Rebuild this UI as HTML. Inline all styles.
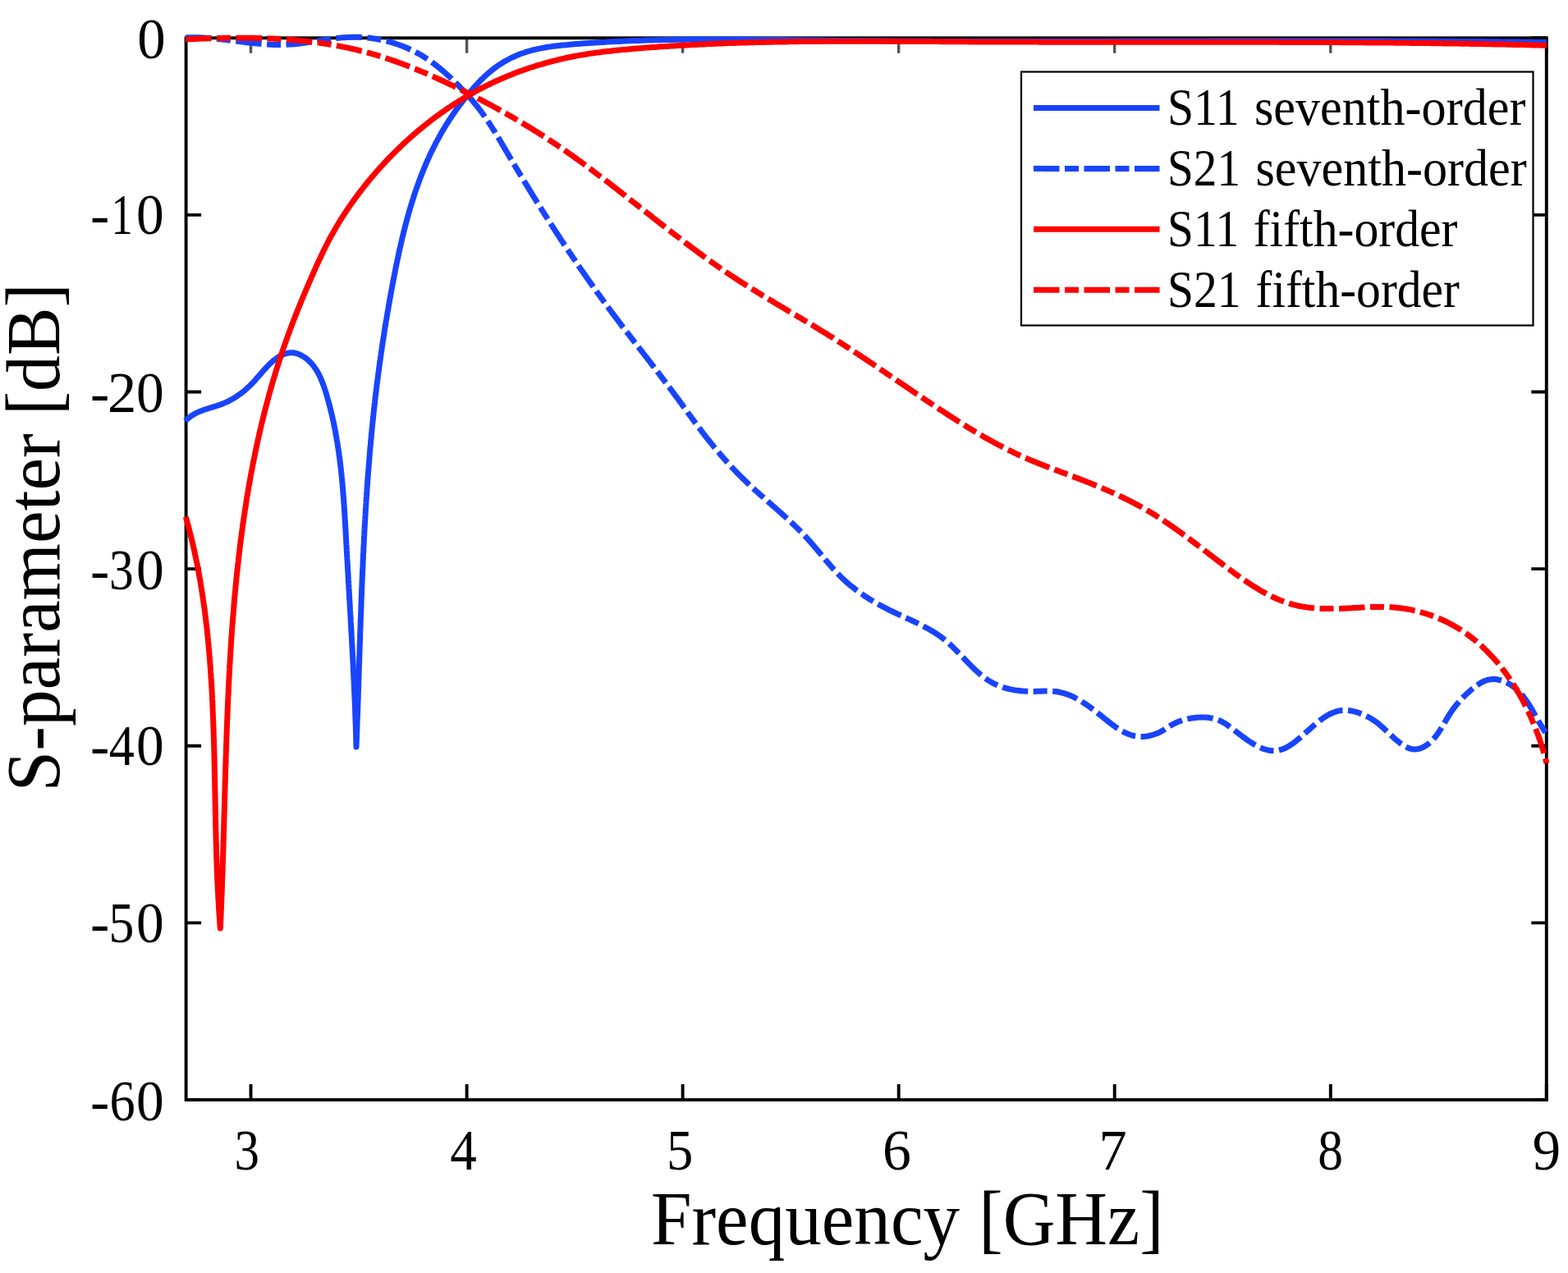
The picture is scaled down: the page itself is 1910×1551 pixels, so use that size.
<!DOCTYPE html>
<html><head><meta charset="utf-8"><title>S-parameter plot</title>
<style>html,body{margin:0;padding:0;background:#fff;overflow:hidden}svg{display:block}text{font-family:"Liberation Serif","Times New Roman",serif;fill:#000}</style>
</head><body>
<svg width="1910" height="1551" viewBox="0 0 1910 1551">
<rect width="1910" height="1551" fill="#fff"/>
<path d="M305.5,1340.0V1321.0M568.6,1340.0V1321.0M831.6,1340.0V1321.0M1094.7,1340.0V1321.0M1357.7,1340.0V1321.0M1620.8,1340.0V1321.0M1883.8,1340.0V1321.0M226.6,46.3H245.1M1883.8,46.3H1865.3M226.6,261.9H245.1M1883.8,261.9H1865.3M226.6,477.5H245.1M1883.8,477.5H1865.3M226.6,693.1H245.1M1883.8,693.1H1865.3M226.6,908.8H245.1M1883.8,908.8H1865.3M226.6,1124.4H245.1M1883.8,1124.4H1865.3M226.6,1340.0H245.1M1883.8,1340.0H1865.3" stroke="#000" stroke-width="3.9" fill="none"/>
<path d="M305.5,46.3V64.8M568.6,46.3V64.8M831.6,46.3V64.8M1094.7,46.3V64.8M1357.7,46.3V64.8M1620.8,46.3V64.8M1883.8,46.3V64.8" stroke="#555" stroke-width="3.4" fill="none"/>
<rect x="226.6" y="46.3" width="1657.2" height="1293.7" fill="none" stroke="#000" stroke-width="3.9"/>
<g clip-path="url(#clip)">
<path d="M226.0,512.8 227.8,510.9 229.7,509.2 231.7,507.7 233.7,506.2 235.9,504.9 238.0,503.7 240.3,502.6 242.6,501.6 244.9,500.7 247.2,499.8 249.6,499.0 252.0,498.2 254.5,497.4 256.9,496.7 259.3,495.9 261.8,495.2 264.2,494.4 266.6,493.6 268.9,492.8 271.3,491.9 273.6,490.9 275.9,489.9 278.1,488.8 280.3,487.7 282.5,486.5 284.6,485.3 286.7,484.0 288.8,482.6 290.8,481.2 292.9,479.8 294.8,478.3 296.8,476.7 298.7,475.1 300.6,473.4 302.5,471.7 304.3,470.0 306.1,468.2 307.9,466.4 309.7,464.5 311.4,462.6 313.1,460.6 314.8,458.6 316.5,456.7 318.2,454.7 319.9,452.7 321.7,450.7 323.4,448.8 325.2,446.9 327.0,445.0 328.8,443.2 330.7,441.5 332.6,439.8 334.6,438.2 336.6,436.7 338.7,435.3 340.9,434.0 343.1,432.8 345.4,431.7 347.7,430.9 350.1,430.3 352.4,429.8 354.8,429.7 357.2,429.8 359.6,430.2 361.9,430.8 364.2,431.6 366.4,432.7 368.6,433.8 370.7,435.2 372.7,436.6 374.6,438.1 376.4,439.7 378.1,441.4 379.7,443.2 381.3,445.0 382.7,446.9 384.1,448.9 385.4,451.0 386.7,453.1 387.9,455.2 389.0,457.5 390.1,459.7 391.1,462.0 392.1,464.4 393.0,466.7 393.9,469.1 394.8,471.6 395.6,474.0 396.4,476.5 397.2,478.9 397.9,481.4 398.6,483.9 399.3,486.4 400.0,488.9 400.7,491.4 401.3,493.8 402.0,496.3 402.6,498.8 403.2,501.3 403.8,503.8 404.4,506.3 405.0,508.7 405.5,511.2 406.1,513.7 406.6,516.2 407.1,518.7 407.6,521.2 408.1,523.7 408.6,526.1 409.0,528.6 409.5,531.1 409.9,533.6 410.3,536.1 410.8,538.6 411.2,541.1 411.5,543.6 411.9,546.1 412.3,548.5 412.7,551.0 413.0,553.5 413.3,556.0 413.7,558.5 414.0,561.0 414.3,563.5 414.6,566.0 414.9,568.5 415.2,571.0 415.5,573.4 415.7,575.9 416.0,578.4 416.2,580.9 416.5,583.4 416.7,585.9 417.0,588.4 417.2,590.9 417.4,593.4 417.6,595.9 417.8,598.4 418.0,600.9 418.2,603.4 418.4,605.9 418.6,608.4 418.8,610.9 418.9,613.4 419.1,615.9 419.3,618.4 419.5,620.9 419.6,623.4 419.8,625.9 419.9,628.4 420.1,630.9 420.2,633.4 420.4,635.9 420.5,638.4 420.7,640.9 420.8,643.4 421.0,645.9 421.1,648.4 421.2,650.9 421.4,653.4 421.5,655.9 421.6,658.4 421.8,660.9 421.9,663.5 422.1,666.0 422.2,668.5 422.3,671.0 422.5,673.5 422.6,676.0 422.8,678.5 422.9,681.0 423.1,683.5 423.2,686.0 423.3,688.6 423.5,691.1 423.6,693.6 423.8,696.1 423.9,698.6 424.1,701.1 424.2,703.7 424.3,706.2 424.5,708.7 424.6,711.2 424.8,713.7 424.9,716.2 425.1,718.7 425.2,721.3 425.4,723.8 425.5,726.3 425.7,728.8 425.8,731.3 425.9,733.9 426.1,736.4 426.2,738.9 426.4,741.4 426.5,743.9 426.7,746.5 426.8,749.0 427.0,751.5 427.1,754.0 427.2,756.5 427.4,759.1 427.5,761.6 427.7,764.1 427.8,766.6 427.9,769.1 428.1,771.7 428.2,774.2 428.4,776.7 428.5,779.2 428.6,781.7 428.8,784.3 428.9,786.8 429.0,789.3 429.2,791.8 429.3,794.3 429.4,796.9 429.6,799.4 429.7,801.9 429.8,804.4 430.0,806.9 430.1,809.5 430.2,812.0 430.3,814.5 430.5,817.0 430.6,819.5 430.7,822.1 430.8,824.6 430.9,827.1 431.1,829.6 431.2,832.1 431.3,834.6 431.4,837.2 431.5,839.7 431.6,842.2 431.7,844.7 431.8,847.2 432.0,849.7 432.1,852.3 432.2,854.8 432.3,857.3 432.4,859.8 432.5,862.3 432.6,864.8 432.7,867.4 432.7,869.9 432.8,872.4 432.9,874.9 433.0,877.4 433.1,879.9 433.2,882.4 433.3,884.9 433.4,887.4 433.4,889.9 433.5,892.5 433.6,895.0 433.7,897.5 433.7,900.0 433.8,902.5 433.9,905.0 433.9,907.5 434.0,910.0 434.1,907.5 434.2,905.0 434.3,902.5 434.4,900.0 434.5,897.5 434.6,895.0 434.7,892.5 434.8,890.0 434.9,887.5 435.0,885.0 435.0,882.5 435.1,880.0 435.2,877.5 435.3,875.0 435.4,872.5 435.5,870.0 435.6,867.5 435.7,865.0 435.8,862.5 435.8,860.0 435.9,857.5 436.0,855.0 436.1,852.5 436.2,850.0 436.3,847.5 436.3,845.0 436.4,842.5 436.5,840.0 436.6,837.5 436.7,835.0 436.8,832.5 436.8,830.0 436.9,827.5 437.0,825.0 437.1,822.5 437.2,820.0 437.2,817.5 437.3,814.9 437.4,812.4 437.5,809.9 437.6,807.4 437.7,804.9 437.7,802.4 437.8,799.9 437.9,797.4 438.0,794.9 438.1,792.4 438.1,789.9 438.2,787.4 438.3,784.9 438.4,782.4 438.5,779.9 438.6,777.4 438.6,774.9 438.7,772.4 438.8,769.9 438.9,767.4 439.0,764.9 439.1,762.4 439.2,759.9 439.2,757.4 439.3,754.9 439.4,752.4 439.5,749.8 439.6,747.3 439.7,744.8 439.8,742.3 439.9,739.8 440.0,737.3 440.0,734.8 440.1,732.3 440.2,729.8 440.3,727.3 440.4,724.8 440.5,722.3 440.6,719.8 440.7,717.3 440.8,714.8 440.9,712.3 441.0,709.8 441.1,707.3 441.2,704.8 441.3,702.3 441.4,699.8 441.5,697.3 441.6,694.8 441.8,692.3 441.9,689.8 442.0,687.3 442.1,684.8 442.2,682.3 442.3,679.8 442.4,677.3 442.5,674.7 442.7,672.2 442.8,669.7 442.9,667.2 443.0,664.7 443.2,662.2 443.3,659.7 443.4,657.2 443.5,654.7 443.7,652.2 443.8,649.7 443.9,647.2 444.1,644.7 444.2,642.2 444.3,639.7 444.5,637.2 444.6,634.7 444.8,632.2 444.9,629.7 445.1,627.2 445.2,624.7 445.3,622.2 445.5,619.7 445.7,617.2 445.8,614.7 446.0,612.2 446.1,609.7 446.3,607.2 446.5,604.7 446.6,602.2 446.8,599.7 447.0,597.2 447.1,594.7 447.3,592.3 447.5,589.8 447.7,587.3 447.8,584.8 448.0,582.3 448.2,579.8 448.4,577.3 448.6,574.8 448.8,572.3 449.0,569.8 449.2,567.3 449.4,564.8 449.6,562.3 449.8,559.8 450.0,557.3 450.2,554.8 450.4,552.3 450.6,549.8 450.8,547.3 451.0,544.9 451.3,542.4 451.5,539.9 451.7,537.4 451.9,534.9 452.2,532.4 452.4,529.9 452.6,527.4 452.9,524.9 453.1,522.4 453.4,519.9 453.6,517.5 453.9,515.0 454.1,512.5 454.4,510.0 454.7,507.5 454.9,505.0 455.2,502.5 455.4,500.0 455.7,497.5 456.0,495.1 456.3,492.6 456.6,490.1 456.8,487.6 457.1,485.1 457.4,482.6 457.7,480.1 458.0,477.7 458.3,475.2 458.6,472.7 458.9,470.2 459.2,467.7 459.5,465.2 459.9,462.8 460.2,460.3 460.5,457.8 460.8,455.3 461.1,452.8 461.5,450.4 461.8,447.9 462.1,445.4 462.5,442.9 462.8,440.4 463.2,438.0 463.5,435.5 463.9,433.0 464.2,430.5 464.6,428.0 465.0,425.6 465.3,423.1 465.7,420.6 466.1,418.1 466.4,415.7 466.8,413.2 467.2,410.7 467.6,408.2 468.0,405.8 468.3,403.3 468.7,400.8 469.1,398.3 469.5,395.9 469.9,393.4 470.3,390.9 470.8,388.4 471.2,386.0 471.6,383.5 472.0,381.0 472.4,378.6 472.9,376.1 473.3,373.6 473.7,371.1 474.1,368.7 474.6,366.2 475.0,363.7 475.5,361.3 475.9,358.8 476.4,356.3 476.8,353.9 477.3,351.4 477.7,348.9 478.2,346.5 478.7,344.0 479.1,341.5 479.6,339.1 480.1,336.6 480.6,334.1 481.1,331.7 481.5,329.2 482.0,326.8 482.5,324.3 483.0,321.8 483.5,319.4 484.0,316.9 484.6,314.5 485.1,312.0 485.6,309.5 486.1,307.1 486.7,304.6 487.2,302.2 487.8,299.7 488.3,297.3 488.9,294.8 489.5,292.4 490.0,290.0 490.6,287.5 491.2,285.1 491.8,282.7 492.4,280.2 493.0,277.8 493.6,275.4 494.3,273.0 494.9,270.5 495.6,268.1 496.2,265.7 496.9,263.3 497.5,260.9 498.2,258.5 498.9,256.1 499.6,253.7 500.3,251.3 501.1,248.9 501.8,246.5 502.5,244.1 503.3,241.8 504.0,239.4 504.8,237.0 505.6,234.7 506.4,232.3 507.2,229.9 508.0,227.6 508.9,225.2 509.7,222.9 510.6,220.6 511.4,218.2 512.3,215.9 513.2,213.6 514.1,211.3 515.0,208.9 516.0,206.6 516.9,204.3 517.9,202.0 518.8,199.8 519.8,197.5 520.8,195.2 521.9,192.9 522.9,190.7 523.9,188.4 525.0,186.1 526.1,183.9 527.2,181.7 528.3,179.4 529.4,177.2 530.5,175.0 531.7,172.8 532.9,170.6 534.1,168.4 535.3,166.2 536.5,164.0 537.7,161.8 539.0,159.6 540.3,157.5 541.6,155.3 542.9,153.2 544.2,151.0 545.6,148.9 546.9,146.8 548.3,144.7 549.7,142.5 551.1,140.5 552.5,138.4 554.0,136.3 555.4,134.2 556.9,132.2 558.4,130.1 559.9,128.1 561.4,126.1 563.0,124.1 564.5,122.1 566.1,120.1 567.6,118.1 569.2,116.2 570.9,114.2 572.5,112.3 574.1,110.4 575.8,108.5 577.4,106.6 579.1,104.7 580.8,102.9 582.5,101.0 584.3,99.2 586.0,97.4 587.8,95.7 589.6,93.9 591.4,92.2 593.3,90.5 595.2,88.9 597.1,87.3 599.0,85.7 601.0,84.1 603.0,82.6 605.0,81.1 607.1,79.7 609.2,78.3 611.3,77.0 613.4,75.6 615.6,74.4 617.8,73.2 620.0,72.0 622.2,70.8 624.4,69.7 626.7,68.7 629.0,67.7 631.3,66.8 633.6,65.8 635.9,65.0 638.3,64.2 640.6,63.4 643.0,62.7 645.4,62.0 647.7,61.3 650.1,60.7 652.6,60.2 655.0,59.6 657.4,59.1 659.8,58.6 662.3,58.2 664.7,57.7 667.2,57.3 669.7,57.0 672.2,56.6 674.6,56.3 677.1,56.0 679.6,55.7 682.1,55.4 684.6,55.1 687.1,54.9 689.6,54.7 692.1,54.4 694.6,54.2 697.1,54.0 699.6,53.8 702.1,53.6 704.6,53.4 707.2,53.2 709.7,53.0 712.2,52.8 714.7,52.7 717.2,52.5 719.7,52.3 722.2,52.2 724.7,52.0 727.2,51.8 729.7,51.7 732.2,51.5 734.7,51.4 737.2,51.3 739.8,51.1 742.3,51.0 744.8,50.8 747.3,50.7 749.8,50.6 752.3,50.5 754.8,50.4 757.3,50.2 759.8,50.1 762.3,50.0 764.8,49.9 767.3,49.8 769.8,49.7 772.3,49.6 774.8,49.5 777.3,49.4 779.8,49.4 782.3,49.3 784.9,49.2 787.4,49.1 789.9,49.0 792.4,49.0 794.9,48.9 797.4,48.8 799.9,48.8 802.4,48.7 804.9,48.7 807.4,48.6 809.9,48.5 812.4,48.5 814.9,48.5 817.4,48.4 819.9,48.4 822.4,48.3 824.9,48.3 827.4,48.3 829.9,48.2 832.4,48.2 834.9,48.2 837.4,48.1 839.9,48.1 842.4,48.1 844.9,48.1 847.4,48.0 849.9,48.0 852.5,48.0 855.0,48.0 857.5,48.0 860.0,48.0 862.5,48.0 865.0,48.0 867.5,48.0 870.0,48.0 872.5,48.0 875.0,48.0 877.5,48.0 880.0,48.0 882.5,48.0 885.0,48.0 887.5,48.0 890.0,48.0 892.5,48.0 895.0,48.0 897.5,48.0 900.0,48.1 902.5,48.1 905.0,48.1 907.5,48.1 910.0,48.1 912.5,48.1 915.0,48.2 917.5,48.2 920.0,48.2 922.5,48.2 925.0,48.2 927.5,48.3 930.0,48.3 932.5,48.3 935.0,48.4 937.5,48.4 940.0,48.4 942.5,48.4 945.0,48.5 947.5,48.5 950.0,48.5 952.5,48.6 955.0,48.6 957.5,48.6 960.0,48.6 962.5,48.7 965.0,48.7 967.5,48.7 970.0,48.8 972.5,48.8 975.0,48.8 977.5,48.9 980.1,48.9 982.6,48.9 985.1,49.0 987.6,49.0 990.1,49.0 992.6,49.0 995.1,49.1 997.6,49.1 1000.1,49.1 1002.6,49.2 1005.1,49.2 1007.6,49.2 1010.1,49.2 1012.6,49.3 1015.1,49.3 1017.6,49.3 1020.1,49.4 1022.6,49.4 1025.1,49.4 1027.6,49.4 1030.1,49.5 1032.6,49.5 1035.1,49.5 1037.6,49.5 1040.1,49.5 1042.6,49.6 1045.1,49.6 1047.6,49.6 1050.1,49.6 1052.6,49.7 1055.1,49.7 1057.6,49.7 1060.1,49.7 1062.6,49.7 1065.1,49.8 1067.6,49.8 1070.1,49.8 1072.6,49.8 1075.1,49.8 1077.6,49.8 1080.1,49.9 1082.7,49.9 1085.2,49.9 1087.7,49.9 1090.2,49.9 1092.7,49.9 1095.2,50.0 1097.7,50.0 1100.2,50.0 1102.7,50.0 1105.2,50.0 1107.7,50.0 1110.2,50.0 1112.7,50.0 1115.2,50.1 1117.7,50.1 1120.2,50.1 1122.7,50.1 1125.2,50.1 1127.7,50.1 1130.2,50.1 1132.7,50.1 1135.2,50.1 1137.7,50.2 1140.2,50.2 1142.7,50.2 1145.2,50.2 1147.7,50.2 1150.2,50.2 1152.7,50.2 1155.3,50.2 1157.8,50.2 1160.3,50.2 1162.8,50.2 1165.3,50.2 1167.8,50.2 1170.3,50.2 1172.8,50.3 1175.3,50.3 1177.8,50.3 1180.3,50.3 1182.8,50.3 1185.3,50.3 1187.8,50.3 1190.3,50.3 1192.8,50.3 1195.3,50.3 1197.8,50.3 1200.3,50.3 1202.8,50.3 1205.3,50.3 1207.8,50.3 1210.3,50.3 1212.8,50.3 1215.3,50.3 1217.9,50.3 1220.4,50.3 1222.9,50.3 1225.4,50.3 1227.9,50.3 1230.4,50.3 1232.9,50.3 1235.4,50.3 1237.9,50.3 1240.4,50.3 1242.9,50.3 1245.4,50.3 1247.9,50.3 1250.4,50.3 1252.9,50.3 1255.4,50.3 1257.9,50.3 1260.4,50.3 1262.9,50.3 1265.4,50.3 1267.9,50.3 1270.4,50.3 1272.9,50.3 1275.5,50.3 1278.0,50.3 1280.5,50.3 1283.0,50.3 1285.5,50.3 1288.0,50.3 1290.5,50.3 1293.0,50.3 1295.5,50.3 1298.0,50.3 1300.5,50.3 1303.0,50.3 1305.5,50.3 1308.0,50.3 1310.5,50.3 1313.0,50.3 1315.5,50.2 1318.0,50.2 1320.5,50.2 1323.0,50.2 1325.5,50.2 1328.0,50.2 1330.6,50.2 1333.1,50.2 1335.6,50.2 1338.1,50.2 1340.6,50.2 1343.1,50.2 1345.6,50.2 1348.1,50.2 1350.6,50.2 1353.1,50.2 1355.6,50.2 1358.1,50.2 1360.6,50.2 1363.1,50.1 1365.6,50.1 1368.1,50.1 1370.6,50.1 1373.1,50.1 1375.6,50.1 1378.1,50.1 1380.7,50.1 1383.2,50.1 1385.7,50.1 1388.2,50.1 1390.7,50.1 1393.2,50.1 1395.7,50.1 1398.2,50.1 1400.7,50.1 1403.2,50.0 1405.7,50.0 1408.2,50.0 1410.7,50.0 1413.2,50.0 1415.7,50.0 1418.2,50.0 1420.7,50.0 1423.2,50.0 1425.7,50.0 1428.2,50.0 1430.7,50.0 1433.3,50.0 1435.8,50.0 1438.3,50.0 1440.8,49.9 1443.3,49.9 1445.8,49.9 1448.3,49.9 1450.8,49.9 1453.3,49.9 1455.8,49.9 1458.3,49.9 1460.8,49.9 1463.3,49.9 1465.8,49.9 1468.3,49.9 1470.8,49.9 1473.3,49.9 1475.8,49.9 1478.3,49.9 1480.8,49.8 1483.4,49.8 1485.9,49.8 1488.4,49.8 1490.9,49.8 1493.4,49.8 1495.9,49.8 1498.4,49.8 1500.9,49.8 1503.4,49.8 1505.9,49.8 1508.4,49.8 1510.9,49.8 1513.4,49.8 1515.9,49.8 1518.4,49.8 1520.9,49.8 1523.4,49.8 1525.9,49.8 1528.4,49.8 1530.9,49.8 1533.5,49.7 1536.0,49.7 1538.5,49.7 1541.0,49.7 1543.5,49.7 1546.0,49.7 1548.5,49.7 1551.0,49.7 1553.5,49.7 1556.0,49.7 1558.5,49.7 1561.0,49.7 1563.5,49.7 1566.0,49.7 1568.5,49.7 1571.0,49.7 1573.5,49.7 1576.0,49.7 1578.5,49.7 1581.0,49.7 1583.5,49.7 1586.1,49.7 1588.6,49.7 1591.1,49.7 1593.6,49.7 1596.1,49.7 1598.6,49.7 1601.1,49.7 1603.6,49.7 1606.1,49.7 1608.6,49.7 1611.1,49.7 1613.6,49.7 1616.1,49.7 1618.6,49.7 1621.1,49.7 1623.6,49.7 1626.1,49.7 1628.6,49.7 1631.1,49.7 1633.6,49.7 1636.1,49.7 1638.6,49.7 1641.2,49.7 1643.7,49.7 1646.2,49.7 1648.7,49.7 1651.2,49.8 1653.7,49.8 1656.2,49.8 1658.7,49.8 1661.2,49.8 1663.7,49.8 1666.2,49.8 1668.7,49.8 1671.2,49.8 1673.7,49.8 1676.2,49.8 1678.7,49.8 1681.2,49.8 1683.7,49.8 1686.2,49.8 1688.7,49.9 1691.2,49.9 1693.7,49.9 1696.2,49.9 1698.8,49.9 1701.3,49.9 1703.8,49.9 1706.3,49.9 1708.8,49.9 1711.3,49.9 1713.8,50.0 1716.3,50.0 1718.8,50.0 1721.3,50.0 1723.8,50.0 1726.3,50.0 1728.8,50.0 1731.3,50.0 1733.8,50.1 1736.3,50.1 1738.8,50.1 1741.3,50.1 1743.8,50.1 1746.3,50.1 1748.8,50.2 1751.3,50.2 1753.8,50.2 1756.3,50.2 1758.8,50.2 1761.4,50.2 1763.9,50.3 1766.4,50.3 1768.9,50.3 1771.4,50.3 1773.9,50.3 1776.4,50.4 1778.9,50.4 1781.4,50.4 1783.9,50.4 1786.4,50.4 1788.9,50.5 1791.4,50.5 1793.9,50.5 1796.4,50.5 1798.9,50.6 1801.4,50.6 1803.9,50.6 1806.4,50.6 1808.9,50.6 1811.4,50.7 1813.9,50.7 1816.4,50.7 1818.9,50.8 1821.4,50.8 1823.9,50.8 1826.4,50.8 1828.9,50.9 1831.4,50.9 1833.9,50.9 1836.4,51.0 1839.0,51.0 1841.5,51.0 1844.0,51.0 1846.5,51.1 1849.0,51.1 1851.5,51.1 1854.0,51.2 1856.5,51.2 1859.0,51.2 1861.5,51.3 1864.0,51.3 1866.5,51.3 1869.0,51.4 1871.5,51.4 1874.0,51.5 1876.5,51.5 1879.0,51.5 1881.5,51.6 1884.0,51.6" stroke="#1844ff" stroke-width="7" fill="none" stroke-linejoin="round"/>
<path d="M226.0,45.9 228.5,45.8 231.0,45.7 233.5,45.7 235.9,45.7 238.4,45.7 240.9,45.7 243.4,45.8 245.9,45.9 248.4,46.0 250.9,46.2 253.4,46.4 255.9,46.5 258.4,46.7 260.9,47.0 263.4,47.2 265.9,47.5 268.4,47.7 270.9,48.0 273.4,48.3 275.9,48.6 278.4,48.9 280.9,49.2 283.4,49.5 285.9,49.8 288.4,50.1 290.9,50.5 293.4,50.8 295.9,51.1 298.4,51.4 300.9,51.7 303.4,52.0 305.9,52.3 308.4,52.5 310.9,52.8 313.4,53.0 315.9,53.3 318.4,53.5 320.9,53.7 323.3,53.9 325.8,54.0 328.3,54.2 330.8,54.3 333.3,54.4 335.8,54.5 338.3,54.5 340.8,54.5 343.3,54.5 345.7,54.4 348.2,54.4 350.7,54.2 353.2,54.1 355.7,53.9 358.1,53.7 360.6,53.4 363.1,53.2 365.6,52.9 368.0,52.6 370.5,52.2 373.0,51.9 375.4,51.5 377.9,51.2 380.4,50.8 382.9,50.4 385.3,50.0 387.8,49.6 390.3,49.3 392.8,48.9 395.2,48.5 397.7,48.2 400.2,47.8 402.7,47.5 405.1,47.1 407.6,46.8 410.1,46.6 412.6,46.3 415.1,46.1 417.6,45.8 420.1,45.7 422.5,45.5 425.0,45.4 427.5,45.3 430.0,45.2 432.5,45.2 435.0,45.3 437.5,45.3 440.0,45.4 442.5,45.6 445.0,45.8 447.5,46.0 450.0,46.3 452.5,46.6 455.0,46.9 457.4,47.3 459.9,47.7 462.4,48.2 464.8,48.7 467.3,49.2 469.7,49.8 472.2,50.4 474.6,51.0 477.0,51.7 479.4,52.4 481.8,53.2 484.2,54.0 486.5,54.8 488.9,55.7 491.2,56.6 493.5,57.5 495.9,58.5 498.1,59.5 500.4,60.5 502.7,61.6 504.9,62.7 507.1,63.9 509.3,65.1 511.5,66.3 513.7,67.6 515.8,68.9 517.9,70.2 520.0,71.6 522.1,73.0 524.2,74.4 526.2,75.9 528.2,77.4 530.2,78.9 532.2,80.4 534.2,82.0 536.1,83.6 538.0,85.2 540.0,86.8 541.9,88.5 543.7,90.1 545.6,91.8 547.5,93.5 549.3,95.2 551.1,97.0 552.9,98.7 554.7,100.4 556.5,102.2 558.3,104.0 560.1,105.8 561.8,107.6 563.5,109.4 565.2,111.2 567.0,113.0 568.6,114.8 570.3,116.7 572.0,118.6 573.6,120.4 575.2,122.3 576.8,124.2 578.4,126.2 580.0,128.1 581.5,130.0 583.1,132.0 584.6,134.0 586.1,136.0 587.6,138.0 589.0,140.0 590.5,142.0 591.9,144.1 593.3,146.1 594.7,148.2 596.1,150.3 597.4,152.4 598.8,154.5 600.1,156.6 601.5,158.7 602.8,160.8 604.1,163.0 605.4,165.1 606.7,167.2 608.0,169.4 609.3,171.5 610.6,173.7 611.8,175.9 613.1,178.0 614.4,180.2 615.6,182.4 616.9,184.5 618.2,186.7 619.5,188.8 620.7,191.0 622.0,193.2 623.3,195.3 624.6,197.5 625.8,199.6 627.1,201.8 628.4,204.0 629.7,206.1 631.0,208.3 632.3,210.4 633.6,212.6 634.9,214.7 636.2,216.9 637.5,219.0 638.8,221.2 640.1,223.3 641.4,225.4 642.7,227.6 644.0,229.7 645.3,231.9 646.6,234.0 647.9,236.1 649.2,238.3 650.5,240.4 651.9,242.5 653.2,244.6 654.5,246.8 655.8,248.9 657.2,251.0 658.5,253.1 659.8,255.3 661.1,257.4 662.5,259.5 663.8,261.6 665.2,263.7 666.5,265.8 667.9,268.0 669.2,270.1 670.6,272.2 671.9,274.3 673.3,276.4 674.6,278.5 676.0,280.6 677.3,282.7 678.7,284.8 680.1,286.9 681.4,289.0 682.8,291.1 684.2,293.2 685.6,295.2 686.9,297.3 688.3,299.4 689.7,301.5 691.1,303.6 692.5,305.7 693.9,307.7 695.3,309.8 696.7,311.9 698.1,314.0 699.5,316.0 700.9,318.1 702.3,320.2 703.7,322.2 705.1,324.3 706.5,326.4 707.9,328.4 709.4,330.5 710.8,332.5 712.2,334.6 713.6,336.6 715.1,338.7 716.5,340.7 718.0,342.8 719.4,344.8 720.8,346.9 722.3,348.9 723.7,351.0 725.2,353.0 726.6,355.0 728.1,357.1 729.6,359.1 731.0,361.1 732.5,363.1 734.0,365.2 735.4,367.2 736.9,369.2 738.4,371.2 739.9,373.2 741.4,375.3 742.9,377.3 744.4,379.3 745.9,381.3 747.4,383.3 748.9,385.3 750.4,387.3 751.9,389.3 753.4,391.3 754.9,393.3 756.4,395.3 757.9,397.3 759.5,399.3 761.0,401.3 762.5,403.2 764.0,405.2 765.6,407.2 767.1,409.2 768.6,411.2 770.2,413.2 771.7,415.1 773.2,417.1 774.8,419.1 776.3,421.1 777.8,423.1 779.4,425.0 780.9,427.0 782.5,429.0 784.0,431.0 785.5,433.0 787.1,434.9 788.6,436.9 790.1,438.9 791.7,440.9 793.2,442.9 794.7,444.9 796.3,446.8 797.8,448.8 799.3,450.8 800.8,452.8 802.4,454.8 803.9,456.8 805.4,458.8 806.9,460.8 808.4,462.8 809.9,464.8 811.5,466.8 813.0,468.8 814.5,470.8 816.0,472.8 817.5,474.8 819.0,476.8 820.4,478.8 821.9,480.8 823.4,482.8 824.9,484.8 826.4,486.9 827.8,488.9 829.3,490.9 830.8,492.9 832.2,495.0 833.7,497.0 835.2,499.0 836.7,501.0 838.1,503.1 839.6,505.1 841.1,507.1 842.5,509.1 844.0,511.1 845.5,513.1 847.0,515.2 848.5,517.2 850.0,519.2 851.5,521.2 853.0,523.2 854.5,525.2 856.0,527.2 857.5,529.1 859.1,531.1 860.6,533.1 862.2,535.1 863.7,537.0 865.3,539.0 866.9,540.9 868.5,542.9 870.0,544.8 871.6,546.7 873.3,548.7 874.9,550.6 876.5,552.5 878.1,554.4 879.8,556.3 881.4,558.2 883.1,560.0 884.7,561.9 886.4,563.8 888.1,565.6 889.8,567.5 891.5,569.3 893.2,571.1 894.9,572.9 896.7,574.8 898.4,576.6 900.2,578.3 901.9,580.1 903.7,581.9 905.5,583.6 907.3,585.4 909.1,587.1 910.9,588.8 912.7,590.6 914.5,592.3 916.4,594.0 918.2,595.7 920.0,597.3 921.9,599.0 923.8,600.7 925.6,602.4 927.5,604.0 929.4,605.7 931.2,607.3 933.1,609.0 935.0,610.6 936.9,612.3 938.7,613.9 940.6,615.6 942.5,617.2 944.4,618.9 946.2,620.5 948.1,622.2 950.0,623.9 951.9,625.5 953.7,627.2 955.6,628.9 957.4,630.5 959.3,632.2 961.1,633.9 962.9,635.6 964.8,637.3 966.6,639.1 968.4,640.8 970.2,642.5 972.0,644.3 973.7,646.0 975.5,647.8 977.3,649.6 979.0,651.4 980.7,653.2 982.4,655.1 984.1,656.9 985.8,658.8 987.5,660.7 989.1,662.6 990.8,664.5 992.4,666.4 994.1,668.3 995.7,670.2 997.3,672.2 998.9,674.1 1000.5,676.1 1002.1,678.0 1003.8,679.9 1005.4,681.9 1007.0,683.8 1008.6,685.7 1010.3,687.6 1011.9,689.5 1013.6,691.4 1015.3,693.3 1016.9,695.1 1018.6,697.0 1020.4,698.8 1022.1,700.6 1023.9,702.4 1025.6,704.1 1027.5,705.8 1029.3,707.5 1031.1,709.2 1033.0,710.8 1034.9,712.5 1036.8,714.0 1038.8,715.6 1040.7,717.1 1042.7,718.7 1044.7,720.1 1046.8,721.6 1048.8,723.0 1050.9,724.5 1052.9,725.9 1055.0,727.2 1057.1,728.6 1059.2,729.9 1061.4,731.2 1063.5,732.5 1065.7,733.8 1067.9,735.0 1070.0,736.2 1072.2,737.5 1074.4,738.7 1076.7,739.8 1078.9,741.0 1081.1,742.1 1083.4,743.3 1085.6,744.4 1087.9,745.5 1090.1,746.5 1092.4,747.6 1094.7,748.7 1096.9,749.7 1099.2,750.8 1101.5,751.8 1103.8,752.8 1106.0,753.9 1108.3,754.9 1110.6,756.0 1112.8,757.0 1115.1,758.1 1117.3,759.2 1119.5,760.3 1121.8,761.4 1124.0,762.5 1126.2,763.7 1128.3,764.8 1130.5,766.0 1132.7,767.2 1134.8,768.5 1136.9,769.8 1139.0,771.1 1141.1,772.4 1143.2,773.8 1145.2,775.3 1147.2,776.7 1149.2,778.3 1151.1,779.8 1153.1,781.4 1155.0,783.1 1156.9,784.8 1158.7,786.5 1160.6,788.3 1162.4,790.1 1164.2,791.9 1166.0,793.7 1167.8,795.6 1169.6,797.4 1171.4,799.3 1173.2,801.1 1174.9,803.0 1176.7,804.9 1178.5,806.7 1180.3,808.6 1182.1,810.4 1183.9,812.2 1185.7,814.0 1187.5,815.8 1189.4,817.5 1191.3,819.2 1193.1,820.8 1195.1,822.4 1197.0,824.0 1199.0,825.5 1200.9,826.9 1203.0,828.3 1205.0,829.6 1207.1,830.9 1209.2,832.1 1211.4,833.2 1213.6,834.2 1215.8,835.2 1218.1,836.1 1220.4,836.9 1222.7,837.7 1225.1,838.4 1227.5,839.0 1229.9,839.6 1232.3,840.1 1234.8,840.6 1237.2,841.0 1239.7,841.3 1242.2,841.6 1244.7,841.9 1247.3,842.1 1249.8,842.2 1252.4,842.3 1254.9,842.4 1257.5,842.4 1260.1,842.4 1262.7,842.3 1265.2,842.3 1267.8,842.2 1270.4,842.1 1272.9,842.0 1275.5,842.0 1278.0,842.0 1280.5,842.1 1283.0,842.3 1285.4,842.5 1287.9,842.8 1290.3,843.3 1292.6,843.8 1295.0,844.4 1297.3,845.1 1299.6,845.8 1301.9,846.7 1304.1,847.6 1306.4,848.6 1308.6,849.7 1310.8,850.8 1313.0,852.0 1315.1,853.2 1317.3,854.5 1319.4,855.9 1321.5,857.2 1323.6,858.7 1325.7,860.1 1327.8,861.6 1329.8,863.2 1331.9,864.7 1334.0,866.3 1336.0,867.9 1338.0,869.5 1340.1,871.1 1342.1,872.7 1344.1,874.4 1346.1,876.0 1348.1,877.6 1350.2,879.2 1352.2,880.8 1354.2,882.4 1356.3,883.9 1358.3,885.3 1360.4,886.8 1362.5,888.1 1364.6,889.4 1366.7,890.7 1368.9,891.8 1371.0,892.9 1373.2,893.9 1375.5,894.7 1377.7,895.5 1380.0,896.2 1382.4,896.7 1384.7,897.1 1387.2,897.4 1389.6,897.5 1392.1,897.5 1394.7,897.3 1397.2,897.0 1399.8,896.5 1402.4,895.9 1404.9,895.2 1407.4,894.3 1409.9,893.4 1412.2,892.3 1414.5,891.1 1416.7,889.9 1418.9,888.6 1421.0,887.3 1423.1,885.9 1425.1,884.6 1427.2,883.3 1429.4,882.1 1431.5,881.0 1433.7,880.0 1436.0,879.0 1438.3,878.2 1440.6,877.4 1443.0,876.7 1445.4,876.1 1447.9,875.6 1450.4,875.2 1453.0,874.8 1455.5,874.5 1458.1,874.2 1460.7,874.1 1463.3,874.0 1465.9,874.0 1468.5,874.1 1471.0,874.3 1473.5,874.6 1476.0,875.0 1478.4,875.6 1480.8,876.2 1483.0,876.9 1485.2,877.8 1487.4,878.8 1489.5,879.9 1491.5,881.1 1493.6,882.3 1495.6,883.7 1497.5,885.1 1499.5,886.5 1501.5,888.0 1503.5,889.6 1505.5,891.2 1507.5,892.8 1509.6,894.4 1511.8,896.0 1513.9,897.6 1516.1,899.2 1518.3,900.8 1520.5,902.4 1522.8,903.9 1525.1,905.3 1527.3,906.7 1529.6,908.0 1531.9,909.2 1534.3,910.3 1536.6,911.4 1538.9,912.3 1541.2,913.0 1543.5,913.7 1545.8,914.2 1548.1,914.6 1550.4,914.7 1552.7,914.8 1554.9,914.6 1557.1,914.3 1559.3,913.7 1561.5,913.1 1563.7,912.2 1565.8,911.3 1567.9,910.2 1570.1,908.9 1572.2,907.6 1574.3,906.2 1576.3,904.7 1578.4,903.1 1580.4,901.5 1582.5,899.8 1584.5,898.0 1586.5,896.3 1588.5,894.5 1590.5,892.7 1592.5,890.9 1594.5,889.1 1596.5,887.3 1598.5,885.5 1600.5,883.8 1602.5,882.1 1604.5,880.4 1606.5,878.8 1608.5,877.2 1610.5,875.8 1612.6,874.3 1614.7,873.0 1616.8,871.7 1618.9,870.5 1621.0,869.5 1623.2,868.5 1625.4,867.7 1627.6,866.9 1629.8,866.3 1632.1,865.9 1634.5,865.5 1636.8,865.4 1639.2,865.3 1641.7,865.5 1644.2,865.8 1646.7,866.2 1649.2,866.8 1651.7,867.4 1654.2,868.2 1656.6,869.1 1659.1,870.0 1661.5,871.1 1663.8,872.2 1666.1,873.3 1668.3,874.5 1670.5,875.8 1672.5,877.1 1674.6,878.4 1676.5,879.8 1678.5,881.3 1680.4,882.9 1682.2,884.5 1684.1,886.1 1685.9,887.8 1687.7,889.5 1689.5,891.2 1691.4,892.9 1693.2,894.7 1695.0,896.4 1696.9,898.1 1698.8,899.8 1700.7,901.5 1702.7,903.1 1704.7,904.7 1706.8,906.3 1709.0,907.7 1711.2,909.1 1713.4,910.3 1715.7,911.4 1718.0,912.2 1720.4,912.8 1722.7,913.0 1725.1,912.9 1727.5,912.5 1729.8,911.9 1732.1,911.0 1734.4,909.9 1736.6,908.6 1738.7,907.2 1740.6,905.7 1742.5,904.0 1744.3,902.3 1746.0,900.5 1747.7,898.6 1749.2,896.6 1750.8,894.6 1752.2,892.5 1753.6,890.4 1755.0,888.2 1756.3,886.0 1757.7,883.8 1759.0,881.6 1760.3,879.4 1761.6,877.1 1762.9,874.9 1764.2,872.8 1765.5,870.6 1766.9,868.5 1768.3,866.4 1769.7,864.4 1771.2,862.4 1772.7,860.5 1774.2,858.6 1775.8,856.7 1777.4,854.8 1779.0,853.0 1780.7,851.2 1782.4,849.4 1784.2,847.7 1786.0,846.0 1787.8,844.3 1789.7,842.6 1791.7,840.9 1793.6,839.3 1795.7,837.6 1797.7,836.1 1799.9,834.5 1802.0,833.0 1804.2,831.7 1806.5,830.5 1808.8,829.5 1811.1,828.7 1813.5,828.1 1815.9,827.7 1818.3,827.5 1820.7,827.6 1823.2,827.8 1825.6,828.3 1828.0,828.9 1830.4,829.6 1832.8,830.5 1835.1,831.6 1837.4,832.7 1839.6,834.0 1841.7,835.4 1843.8,836.9 1845.8,838.5 1847.7,840.1 1849.5,841.8 1851.2,843.6 1852.9,845.4 1854.5,847.3 1856.1,849.3 1857.6,851.3 1859.0,853.3 1860.4,855.4 1861.8,857.5 1863.2,859.7 1864.5,861.8 1865.8,864.0 1867.0,866.2 1868.3,868.4 1869.5,870.6 1870.8,872.9 1872.0,875.1 1873.3,877.3 1874.5,879.5 1875.8,881.6 1877.1,883.8 1878.4,885.9 1879.7,888.0 1881.1,890.0 1882.5,892.0 1884.0,894.0" stroke="#1844ff" stroke-width="7" fill="none" stroke-linejoin="round" stroke-dasharray="31.5 6.5 17 6.5"/>
<path d="M226.3,629.8 227.0,632.2 227.7,634.7 228.3,637.1 229.0,639.6 229.7,642.0 230.3,644.5 230.9,646.9 231.5,649.4 232.2,651.9 232.8,654.3 233.4,656.8 234.0,659.2 234.5,661.7 235.1,664.1 235.7,666.6 236.2,669.1 236.8,671.5 237.3,674.0 237.8,676.5 238.4,678.9 238.9,681.4 239.4,683.9 239.9,686.3 240.4,688.8 240.8,691.3 241.3,693.8 241.8,696.2 242.2,698.7 242.7,701.2 243.1,703.7 243.6,706.1 244.0,708.6 244.4,711.1 244.8,713.6 245.2,716.1 245.6,718.5 246.0,721.0 246.4,723.5 246.8,726.0 247.2,728.5 247.5,731.0 247.9,733.5 248.2,736.0 248.6,738.4 248.9,740.9 249.3,743.4 249.6,745.9 249.9,748.4 250.2,750.9 250.5,753.4 250.8,755.9 251.1,758.4 251.4,760.9 251.7,763.4 252.0,765.9 252.3,768.4 252.5,770.9 252.8,773.4 253.0,775.9 253.3,778.4 253.5,780.9 253.8,783.4 254.0,785.9 254.2,788.4 254.5,790.9 254.7,793.4 254.9,795.9 255.1,798.4 255.3,800.9 255.5,803.4 255.7,806.0 255.9,808.5 256.1,811.0 256.3,813.5 256.5,816.0 256.6,818.5 256.8,821.0 257.0,823.5 257.1,826.0 257.3,828.6 257.4,831.1 257.6,833.6 257.7,836.1 257.9,838.6 258.0,841.1 258.2,843.7 258.3,846.2 258.4,848.7 258.5,851.2 258.7,853.7 258.8,856.2 258.9,858.8 259.0,861.3 259.1,863.8 259.2,866.3 259.3,868.8 259.4,871.4 259.5,873.9 259.6,876.4 259.7,878.9 259.8,881.5 259.9,884.0 260.0,886.5 260.1,889.0 260.2,891.5 260.2,894.1 260.3,896.6 260.4,899.1 260.5,901.6 260.5,904.2 260.6,906.7 260.7,909.2 260.8,911.7 260.8,914.3 260.9,916.8 260.9,919.3 261.0,921.8 261.1,924.4 261.1,926.9 261.2,929.4 261.2,931.9 261.3,934.5 261.3,937.0 261.4,939.5 261.5,942.0 261.5,944.6 261.6,947.1 261.6,949.6 261.7,952.1 261.7,954.7 261.8,957.2 261.8,959.7 261.9,962.3 261.9,964.8 262.0,967.3 262.0,969.8 262.1,972.4 262.1,974.9 262.1,977.4 262.2,979.9 262.2,982.5 262.3,985.0 262.3,987.5 262.4,990.0 262.5,992.6 262.5,995.1 262.6,997.6 262.6,1000.1 262.7,1002.7 262.7,1005.2 262.8,1007.7 262.8,1010.2 262.9,1012.8 263.0,1015.3 263.0,1017.8 263.1,1020.3 263.1,1022.9 263.2,1025.4 263.3,1027.9 263.3,1030.4 263.4,1033.0 263.5,1035.5 263.6,1038.0 263.6,1040.5 263.7,1043.0 263.8,1045.6 263.9,1048.1 264.0,1050.6 264.1,1053.1 264.1,1055.6 264.2,1058.2 264.3,1060.7 264.4,1063.2 264.5,1065.7 264.6,1068.2 264.7,1070.7 264.8,1073.3 265.0,1075.8 265.1,1078.3 265.2,1080.8 265.3,1083.3 265.4,1085.8 265.6,1088.4 265.7,1090.9 265.8,1093.4 266.0,1095.9 266.1,1098.4 266.3,1100.9 266.4,1103.4 266.6,1105.9 266.7,1108.4 266.9,1111.0 267.0,1113.5 267.2,1116.0 267.4,1118.5 267.6,1121.0 267.7,1123.5 267.9,1126.0 268.1,1128.5 268.3,1131.0 268.4,1128.5 268.5,1126.0 268.6,1123.5 268.8,1121.0 268.9,1118.5 269.0,1116.0 269.1,1113.5 269.2,1111.0 269.3,1108.5 269.4,1106.0 269.5,1103.5 269.6,1101.1 269.7,1098.6 269.8,1096.1 269.9,1093.6 270.0,1091.1 270.1,1088.6 270.2,1086.1 270.3,1083.6 270.4,1081.1 270.5,1078.6 270.5,1076.1 270.6,1073.6 270.7,1071.1 270.8,1068.6 270.9,1066.1 271.0,1063.6 271.1,1061.1 271.1,1058.6 271.2,1056.1 271.3,1053.6 271.4,1051.1 271.5,1048.6 271.5,1046.1 271.6,1043.6 271.7,1041.1 271.8,1038.6 271.9,1036.1 271.9,1033.6 272.0,1031.1 272.1,1028.6 272.1,1026.0 272.2,1023.5 272.3,1021.0 272.4,1018.5 272.4,1016.0 272.5,1013.5 272.6,1011.0 272.7,1008.5 272.7,1006.0 272.8,1003.5 272.9,1001.0 272.9,998.5 273.0,996.0 273.1,993.5 273.1,991.0 273.2,988.5 273.3,986.0 273.4,983.5 273.4,981.0 273.5,978.5 273.6,976.0 273.6,973.5 273.7,971.0 273.8,968.5 273.9,966.0 273.9,963.5 274.0,960.9 274.1,958.4 274.1,955.9 274.2,953.4 274.3,950.9 274.4,948.4 274.4,945.9 274.5,943.4 274.6,940.9 274.7,938.4 274.7,935.9 274.8,933.4 274.9,930.9 275.0,928.4 275.0,925.9 275.1,923.4 275.2,920.9 275.3,918.4 275.4,915.9 275.4,913.4 275.5,910.9 275.6,908.3 275.7,905.8 275.8,903.3 275.9,900.8 275.9,898.3 276.0,895.8 276.1,893.3 276.2,890.8 276.3,888.3 276.4,885.8 276.5,883.3 276.6,880.8 276.7,878.3 276.8,875.8 276.9,873.3 277.0,870.8 277.1,868.3 277.2,865.8 277.3,863.3 277.4,860.8 277.5,858.3 277.6,855.8 277.7,853.3 277.8,850.8 277.9,848.3 278.1,845.8 278.2,843.3 278.3,840.8 278.4,838.3 278.5,835.8 278.7,833.3 278.8,830.8 278.9,828.3 279.0,825.8 279.2,823.3 279.3,820.7 279.4,818.2 279.6,815.7 279.7,813.2 279.8,810.7 280.0,808.3 280.1,805.8 280.3,803.3 280.4,800.8 280.6,798.3 280.7,795.8 280.9,793.3 281.0,790.8 281.2,788.3 281.4,785.8 281.5,783.3 281.7,780.8 281.8,778.3 282.0,775.8 282.2,773.3 282.4,770.8 282.5,768.3 282.7,765.8 282.9,763.3 283.1,760.8 283.3,758.3 283.5,755.8 283.7,753.3 283.9,750.8 284.1,748.3 284.3,745.8 284.5,743.3 284.7,740.8 284.9,738.4 285.1,735.9 285.3,733.4 285.5,730.9 285.7,728.4 286.0,725.9 286.2,723.4 286.4,720.9 286.7,718.4 286.9,715.9 287.1,713.4 287.4,711.0 287.6,708.5 287.9,706.0 288.1,703.5 288.4,701.0 288.6,698.5 288.9,696.0 289.2,693.5 289.4,691.1 289.7,688.6 290.0,686.1 290.3,683.6 290.5,681.1 290.8,678.6 291.1,676.2 291.4,673.7 291.7,671.2 292.0,668.7 292.3,666.2 292.6,663.7 292.9,661.3 293.2,658.8 293.5,656.3 293.9,653.8 294.2,651.3 294.5,648.9 294.9,646.4 295.2,643.9 295.5,641.4 295.9,638.9 296.2,636.5 296.6,634.0 296.9,631.5 297.3,629.0 297.7,626.6 298.0,624.1 298.4,621.6 298.8,619.1 299.2,616.7 299.6,614.2 299.9,611.7 300.3,609.3 300.7,606.8 301.1,604.3 301.6,601.8 302.0,599.4 302.4,596.9 302.8,594.4 303.2,592.0 303.7,589.5 304.1,587.0 304.5,584.6 305.0,582.1 305.4,579.6 305.9,577.2 306.3,574.7 306.8,572.3 307.3,569.8 307.7,567.3 308.2,564.9 308.7,562.4 309.2,560.0 309.7,557.5 310.2,555.1 310.7,552.6 311.2,550.1 311.7,547.7 312.2,545.2 312.7,542.8 313.3,540.3 313.8,537.9 314.3,535.5 314.9,533.0 315.4,530.6 316.0,528.1 316.5,525.7 317.1,523.2 317.7,520.8 318.2,518.4 318.8,515.9 319.4,513.5 320.0,511.1 320.6,508.6 321.2,506.2 321.8,503.8 322.4,501.3 323.0,498.9 323.7,496.5 324.3,494.1 324.9,491.7 325.6,489.2 326.2,486.8 326.9,484.4 327.5,482.0 328.2,479.6 328.9,477.2 329.5,474.7 330.2,472.3 330.9,469.9 331.6,467.5 332.3,465.1 333.0,462.7 333.7,460.3 334.5,457.9 335.2,455.5 335.9,453.1 336.6,450.7 337.4,448.4 338.1,446.0 338.9,443.6 339.7,441.2 340.4,438.8 341.2,436.4 342.0,434.1 342.8,431.7 343.6,429.3 344.4,426.9 345.2,424.6 346.0,422.2 346.8,419.8 347.7,417.5 348.5,415.1 349.3,412.8 350.2,410.4 351.0,408.1 351.9,405.7 352.8,403.4 353.6,401.0 354.5,398.7 355.4,396.3 356.3,394.0 357.2,391.6 358.1,389.3 359.0,387.0 359.9,384.6 360.8,382.3 361.8,380.0 362.7,377.6 363.6,375.3 364.6,373.0 365.5,370.7 366.4,368.4 367.4,366.0 368.4,363.7 369.3,361.4 370.3,359.1 371.3,356.8 372.2,354.5 373.2,352.2 374.2,349.8 375.2,347.5 376.2,345.2 377.2,342.9 378.2,340.6 379.2,338.3 380.2,336.0 381.2,333.7 382.2,331.4 383.2,329.2 384.2,326.9 385.2,324.6 386.3,322.3 387.3,320.0 388.4,317.7 389.4,315.5 390.5,313.2 391.6,310.9 392.6,308.7 393.7,306.4 394.8,304.2 395.9,301.9 397.1,299.7 398.2,297.5 399.3,295.3 400.5,293.0 401.7,290.8 402.8,288.6 404.0,286.5 405.3,284.3 406.5,282.1 407.7,279.9 409.0,277.8 410.2,275.6 411.5,273.5 412.8,271.3 414.1,269.2 415.4,267.1 416.8,265.0 418.1,262.9 419.4,260.8 420.8,258.7 422.2,256.6 423.6,254.6 425.0,252.5 426.4,250.4 427.8,248.4 429.3,246.4 430.7,244.3 432.2,242.3 433.6,240.3 435.1,238.3 436.6,236.3 438.1,234.3 439.7,232.3 441.2,230.3 442.7,228.4 444.3,226.4 445.8,224.5 447.4,222.5 449.0,220.6 450.6,218.6 452.2,216.7 453.8,214.8 455.4,212.9 457.1,211.0 458.7,209.1 460.4,207.2 462.0,205.4 463.7,203.5 465.4,201.6 467.1,199.8 468.8,198.0 470.5,196.1 472.2,194.3 474.0,192.5 475.7,190.7 477.5,188.9 479.2,187.1 481.0,185.4 482.8,183.6 484.6,181.8 486.4,180.1 488.2,178.4 490.0,176.6 491.8,174.9 493.7,173.2 495.5,171.5 497.4,169.8 499.2,168.1 501.1,166.5 503.0,164.8 504.9,163.2 506.8,161.5 508.7,159.9 510.6,158.3 512.6,156.7 514.5,155.1 516.4,153.5 518.4,152.0 520.4,150.4 522.3,148.9 524.3,147.3 526.3,145.8 528.3,144.3 530.3,142.8 532.3,141.3 534.4,139.8 536.4,138.4 538.4,136.9 540.5,135.5 542.5,134.0 544.6,132.6 546.7,131.2 548.8,129.8 550.8,128.4 552.9,127.1 555.0,125.7 557.2,124.4 559.3,123.0 561.4,121.7 563.5,120.4 565.7,119.1 567.8,117.8 570.0,116.6 572.2,115.3 574.3,114.1 576.5,112.9 578.7,111.7 580.9,110.5 583.1,109.3 585.3,108.1 587.5,107.0 589.8,105.8 592.0,104.7 594.2,103.6 596.5,102.5 598.7,101.4 601.0,100.3 603.3,99.3 605.5,98.2 607.8,97.2 610.1,96.2 612.4,95.2 614.7,94.2 617.0,93.2 619.3,92.3 621.6,91.4 624.0,90.4 626.3,89.5 628.6,88.6 631.0,87.7 633.3,86.9 635.7,86.0 638.0,85.2 640.4,84.4 642.8,83.5 645.1,82.7 647.5,82.0 649.9,81.2 652.3,80.4 654.7,79.7 657.1,79.0 659.5,78.3 661.9,77.6 664.3,76.9 666.7,76.2 669.1,75.6 671.5,74.9 674.0,74.3 676.4,73.7 678.8,73.1 681.3,72.5 683.7,71.9 686.1,71.4 688.6,70.8 691.0,70.3 693.5,69.8 695.9,69.3 698.4,68.8 700.8,68.3 703.3,67.9 705.8,67.4 708.2,67.0 710.7,66.6 713.2,66.2 715.6,65.8 718.1,65.4 720.6,65.0 723.0,64.7 725.5,64.3 728.0,64.0 730.5,63.7 733.0,63.3 735.4,63.0 737.9,62.7 740.4,62.4 742.9,62.2 745.4,61.9 747.9,61.6 750.4,61.4 752.9,61.1 755.4,60.9 757.8,60.6 760.3,60.4 762.8,60.2 765.3,59.9 767.8,59.7 770.3,59.5 772.8,59.3 775.3,59.1 777.8,58.9 780.3,58.7 782.8,58.5 785.3,58.3 787.8,58.1 790.3,57.9 792.8,57.7 795.3,57.5 797.8,57.4 800.3,57.2 802.8,57.0 805.3,56.8 807.8,56.7 810.3,56.5 812.8,56.4 815.3,56.2 817.8,56.0 820.3,55.9 822.8,55.7 825.3,55.6 827.8,55.4 830.3,55.3 832.8,55.2 835.3,55.0 837.8,54.9 840.3,54.7 842.8,54.6 845.3,54.5 847.8,54.4 850.3,54.2 852.8,54.1 855.3,54.0 857.8,53.9 860.3,53.8 862.8,53.6 865.3,53.5 867.8,53.4 870.3,53.3 872.8,53.2 875.3,53.1 877.8,53.0 880.3,52.9 882.8,52.8 885.3,52.7 887.8,52.6 890.3,52.5 892.8,52.5 895.3,52.4 897.8,52.3 900.3,52.2 902.8,52.1 905.3,52.1 907.8,52.0 910.3,51.9 912.8,51.8 915.3,51.8 917.8,51.7 920.3,51.6 922.8,51.6 925.3,51.5 927.8,51.5 930.3,51.4 932.8,51.3 935.3,51.3 937.8,51.2 940.3,51.2 942.8,51.1 945.3,51.1 947.8,51.0 950.3,51.0 952.8,50.9 955.3,50.9 957.8,50.9 960.3,50.8 962.8,50.8 965.3,50.7 967.8,50.7 970.3,50.7 972.8,50.6 975.3,50.6 977.8,50.6 980.3,50.6 982.8,50.5 985.3,50.5 987.8,50.5 990.3,50.5 992.8,50.4 995.3,50.4 997.9,50.4 1000.4,50.4 1002.9,50.4 1005.4,50.3 1007.9,50.3 1010.4,50.3 1012.9,50.3 1015.4,50.3 1017.9,50.3 1020.4,50.3 1022.9,50.3 1025.4,50.3 1027.9,50.3 1030.4,50.3 1032.9,50.2 1035.4,50.2 1037.9,50.2 1040.4,50.2 1042.9,50.2 1045.4,50.2 1047.9,50.2 1050.4,50.2 1052.9,50.2 1055.4,50.2 1057.9,50.2 1060.4,50.3 1062.9,50.3 1065.4,50.3 1067.9,50.3 1070.5,50.3 1073.0,50.3 1075.5,50.3 1078.0,50.3 1080.5,50.3 1083.0,50.3 1085.5,50.3 1088.0,50.3 1090.5,50.3 1093.0,50.4 1095.5,50.4 1098.0,50.4 1100.5,50.4 1103.0,50.4 1105.5,50.4 1108.0,50.4 1110.5,50.4 1113.0,50.5 1115.5,50.5 1118.0,50.5 1120.5,50.5 1123.0,50.5 1125.5,50.5 1128.0,50.5 1130.6,50.6 1133.1,50.6 1135.6,50.6 1138.1,50.6 1140.6,50.6 1143.1,50.6 1145.6,50.7 1148.1,50.7 1150.6,50.7 1153.1,50.7 1155.6,50.7 1158.1,50.7 1160.6,50.7 1163.1,50.8 1165.6,50.8 1168.1,50.8 1170.6,50.8 1173.1,50.8 1175.6,50.8 1178.1,50.8 1180.6,50.9 1183.1,50.9 1185.6,50.9 1188.1,50.9 1190.6,50.9 1193.2,50.9 1195.7,50.9 1198.2,50.9 1200.7,51.0 1203.2,51.0 1205.7,51.0 1208.2,51.0 1210.7,51.0 1213.2,51.0 1215.7,51.0 1218.2,51.0 1220.7,51.0 1223.2,51.0 1225.7,51.0 1228.2,51.1 1230.7,51.1 1233.2,51.1 1235.7,51.1 1238.2,51.1 1240.7,51.1 1243.2,51.1 1245.7,51.1 1248.2,51.1 1250.7,51.1 1253.2,51.1 1255.7,51.1 1258.3,51.1 1260.8,51.1 1263.3,51.1 1265.8,51.2 1268.3,51.2 1270.8,51.2 1273.3,51.2 1275.8,51.2 1278.3,51.2 1280.8,51.2 1283.3,51.2 1285.8,51.2 1288.3,51.2 1290.8,51.2 1293.3,51.2 1295.8,51.2 1298.3,51.2 1300.8,51.2 1303.3,51.2 1305.8,51.2 1308.3,51.2 1310.8,51.2 1313.3,51.2 1315.8,51.2 1318.3,51.2 1320.8,51.2 1323.3,51.2 1325.8,51.2 1328.3,51.2 1330.9,51.2 1333.4,51.2 1335.9,51.2 1338.4,51.2 1340.9,51.2 1343.4,51.2 1345.9,51.2 1348.4,51.2 1350.9,51.2 1353.4,51.2 1355.9,51.2 1358.4,51.2 1360.9,51.2 1363.4,51.2 1365.9,51.2 1368.4,51.2 1370.9,51.2 1373.4,51.2 1375.9,51.2 1378.4,51.2 1380.9,51.2 1383.4,51.2 1385.9,51.2 1388.4,51.2 1390.9,51.2 1393.4,51.2 1395.9,51.2 1398.4,51.2 1400.9,51.2 1403.4,51.2 1405.9,51.2 1408.4,51.2 1411.0,51.2 1413.5,51.2 1416.0,51.2 1418.5,51.2 1421.0,51.2 1423.5,51.2 1426.0,51.2 1428.5,51.2 1431.0,51.2 1433.5,51.2 1436.0,51.2 1438.5,51.2 1441.0,51.2 1443.5,51.2 1446.0,51.2 1448.5,51.2 1451.0,51.2 1453.5,51.2 1456.0,51.2 1458.5,51.2 1461.0,51.2 1463.5,51.2 1466.0,51.2 1468.5,51.2 1471.0,51.2 1473.5,51.2 1476.0,51.2 1478.5,51.2 1481.0,51.2 1483.5,51.2 1486.0,51.2 1488.5,51.2 1491.0,51.2 1493.5,51.2 1496.1,51.2 1498.6,51.2 1501.1,51.3 1503.6,51.3 1506.1,51.3 1508.6,51.3 1511.1,51.3 1513.6,51.3 1516.1,51.3 1518.6,51.3 1521.1,51.3 1523.6,51.3 1526.1,51.3 1528.6,51.3 1531.1,51.3 1533.6,51.3 1536.1,51.3 1538.6,51.3 1541.1,51.3 1543.6,51.3 1546.1,51.3 1548.6,51.3 1551.1,51.3 1553.6,51.3 1556.1,51.3 1558.6,51.4 1561.1,51.4 1563.6,51.4 1566.1,51.4 1568.6,51.4 1571.1,51.4 1573.6,51.4 1576.1,51.4 1578.6,51.4 1581.1,51.4 1583.6,51.4 1586.2,51.4 1588.7,51.4 1591.2,51.5 1593.7,51.5 1596.2,51.5 1598.7,51.5 1601.2,51.5 1603.7,51.5 1606.2,51.5 1608.7,51.5 1611.2,51.5 1613.7,51.6 1616.2,51.6 1618.7,51.6 1621.2,51.6 1623.7,51.6 1626.2,51.6 1628.7,51.6 1631.2,51.6 1633.7,51.7 1636.2,51.7 1638.7,51.7 1641.2,51.7 1643.7,51.7 1646.2,51.7 1648.7,51.8 1651.2,51.8 1653.7,51.8 1656.2,51.8 1658.7,51.8 1661.2,51.8 1663.7,51.9 1666.2,51.9 1668.7,51.9 1671.2,51.9 1673.7,51.9 1676.3,52.0 1678.8,52.0 1681.3,52.0 1683.8,52.0 1686.3,52.0 1688.8,52.1 1691.3,52.1 1693.8,52.1 1696.3,52.1 1698.8,52.2 1701.3,52.2 1703.8,52.2 1706.3,52.2 1708.8,52.3 1711.3,52.3 1713.8,52.3 1716.3,52.3 1718.8,52.4 1721.3,52.4 1723.8,52.4 1726.3,52.5 1728.8,52.5 1731.3,52.5 1733.8,52.5 1736.3,52.6 1738.8,52.6 1741.3,52.6 1743.8,52.7 1746.3,52.7 1748.8,52.7 1751.3,52.8 1753.8,52.8 1756.3,52.8 1758.8,52.9 1761.3,52.9 1763.9,52.9 1766.4,53.0 1768.9,53.0 1771.4,53.0 1773.9,53.1 1776.4,53.1 1778.9,53.2 1781.4,53.2 1783.9,53.2 1786.4,53.3 1788.9,53.3 1791.4,53.4 1793.9,53.4 1796.4,53.4 1798.9,53.5 1801.4,53.5 1803.9,53.6 1806.4,53.6 1808.9,53.7 1811.4,53.7 1813.9,53.8 1816.4,53.8 1818.9,53.9 1821.4,53.9 1823.9,53.9 1826.4,54.0 1828.9,54.0 1831.4,54.1 1833.9,54.1 1836.4,54.2 1838.9,54.3 1841.4,54.3 1843.9,54.4 1846.5,54.4 1849.0,54.5 1851.5,54.5 1854.0,54.6 1856.5,54.6 1859.0,54.7 1861.5,54.8 1864.0,54.8 1866.5,54.9 1869.0,54.9 1871.5,55.0 1874.0,55.0 1876.5,55.1 1879.0,55.2 1881.5,55.2 1884.0,55.3" stroke="#ff0000" stroke-width="7" fill="none" stroke-linejoin="round"/>
<path d="M226.0,47.9 228.5,47.8 231.0,47.7 233.5,47.6 235.9,47.5 238.4,47.4 240.9,47.3 243.4,47.2 245.9,47.1 248.4,47.0 250.9,46.9 253.4,46.8 255.9,46.7 258.4,46.7 260.9,46.6 263.4,46.5 265.9,46.5 268.4,46.4 270.9,46.4 273.4,46.3 276.0,46.3 278.5,46.3 281.0,46.2 283.5,46.2 286.0,46.2 288.5,46.2 291.0,46.2 293.5,46.2 296.0,46.2 298.6,46.2 301.1,46.2 303.6,46.3 306.1,46.3 308.6,46.3 311.1,46.4 313.6,46.4 316.1,46.5 318.7,46.6 321.2,46.6 323.7,46.7 326.2,46.8 328.7,46.9 331.2,47.0 333.7,47.2 336.2,47.3 338.7,47.4 341.2,47.6 343.7,47.7 346.2,47.9 348.7,48.0 351.2,48.2 353.7,48.4 356.2,48.6 358.7,48.8 361.2,49.0 363.7,49.3 366.2,49.5 368.7,49.8 371.2,50.0 373.7,50.3 376.2,50.6 378.7,50.9 381.2,51.2 383.6,51.5 386.1,51.8 388.6,52.1 391.1,52.5 393.5,52.8 396.0,53.2 398.5,53.6 401.0,54.0 403.4,54.4 405.9,54.8 408.3,55.2 410.8,55.7 413.2,56.1 415.7,56.6 418.1,57.1 420.6,57.6 423.0,58.1 425.5,58.6 427.9,59.2 430.3,59.7 432.8,60.3 435.2,60.9 437.6,61.5 440.0,62.1 442.4,62.7 444.9,63.3 447.3,64.0 449.7,64.6 452.1,65.3 454.5,66.0 456.9,66.7 459.3,67.4 461.7,68.1 464.0,68.9 466.4,69.6 468.8,70.4 471.2,71.2 473.5,72.0 475.9,72.8 478.3,73.6 480.6,74.4 483.0,75.3 485.4,76.1 487.7,77.0 490.1,77.8 492.4,78.7 494.7,79.6 497.1,80.5 499.4,81.4 501.8,82.3 504.1,83.3 506.4,84.2 508.7,85.2 511.1,86.1 513.4,87.1 515.7,88.1 518.0,89.0 520.3,90.0 522.6,91.0 524.9,92.1 527.2,93.1 529.5,94.1 531.8,95.1 534.1,96.2 536.4,97.2 538.6,98.3 540.9,99.3 543.2,100.4 545.5,101.5 547.8,102.6 550.0,103.6 552.3,104.7 554.5,105.8 556.8,106.9 559.1,108.1 561.3,109.2 563.6,110.3 565.8,111.4 568.1,112.5 570.3,113.7 572.5,114.8 574.8,116.0 577.0,117.1 579.2,118.3 581.5,119.4 583.7,120.6 585.9,121.7 588.1,122.9 590.3,124.1 592.5,125.3 594.8,126.4 597.0,127.6 599.2,128.8 601.4,130.0 603.6,131.2 605.8,132.4 607.9,133.6 610.1,134.9 612.3,136.1 614.5,137.3 616.7,138.5 618.8,139.8 621.0,141.0 623.2,142.3 625.3,143.5 627.5,144.8 629.7,146.0 631.8,147.3 634.0,148.6 636.1,149.9 638.2,151.1 640.4,152.4 642.5,153.7 644.6,155.0 646.8,156.3 648.9,157.6 651.0,159.0 653.1,160.3 655.2,161.6 657.4,163.0 659.5,164.3 661.6,165.6 663.7,167.0 665.8,168.4 667.8,169.7 669.9,171.1 672.0,172.5 674.1,173.9 676.2,175.2 678.2,176.6 680.3,178.0 682.4,179.4 684.4,180.9 686.5,182.3 688.5,183.7 690.6,185.1 692.6,186.6 694.7,188.0 696.7,189.4 698.7,190.9 700.8,192.4 702.8,193.8 704.8,195.3 706.8,196.7 708.9,198.2 710.9,199.7 712.9,201.2 714.9,202.7 716.9,204.2 718.9,205.7 720.9,207.1 722.9,208.7 724.9,210.2 726.9,211.7 728.9,213.2 730.9,214.7 732.9,216.2 734.9,217.7 736.9,219.3 738.9,220.8 740.9,222.3 742.9,223.8 744.8,225.4 746.8,226.9 748.8,228.4 750.8,230.0 752.8,231.5 754.7,233.1 756.7,234.6 758.7,236.2 760.7,237.7 762.6,239.3 764.6,240.8 766.6,242.4 768.5,243.9 770.5,245.5 772.5,247.0 774.4,248.6 776.4,250.1 778.4,251.7 780.4,253.2 782.3,254.8 784.3,256.4 786.3,257.9 788.2,259.5 790.2,261.0 792.2,262.6 794.1,264.1 796.1,265.7 798.1,267.2 800.1,268.8 802.0,270.3 804.0,271.9 806.0,273.4 807.9,275.0 809.9,276.5 811.9,278.1 813.9,279.6 815.9,281.1 817.8,282.7 819.8,284.2 821.8,285.8 823.8,287.3 825.8,288.8 827.8,290.3 829.8,291.9 831.8,293.4 833.7,294.9 835.7,296.4 837.7,297.9 839.7,299.4 841.7,300.9 843.8,302.5 845.8,303.9 847.8,305.4 849.8,306.9 851.8,308.4 853.8,309.9 855.8,311.4 857.9,312.9 859.9,314.3 861.9,315.8 863.9,317.3 866.0,318.7 868.0,320.2 870.1,321.6 872.1,323.0 874.2,324.5 876.2,325.9 878.3,327.3 880.3,328.8 882.4,330.2 884.5,331.6 886.5,333.0 888.6,334.4 890.7,335.8 892.8,337.1 894.9,338.5 897.0,339.9 899.0,341.3 901.1,342.6 903.2,344.0 905.4,345.3 907.5,346.7 909.6,348.0 911.7,349.3 913.8,350.7 915.9,352.0 918.1,353.3 920.2,354.6 922.3,355.9 924.5,357.2 926.6,358.6 928.7,359.9 930.9,361.2 933.0,362.5 935.1,363.7 937.3,365.0 939.4,366.3 941.6,367.6 943.7,368.9 945.9,370.2 948.0,371.5 950.2,372.8 952.3,374.0 954.5,375.3 956.6,376.6 958.8,377.9 960.9,379.2 963.1,380.4 965.2,381.7 967.4,383.0 969.6,384.3 971.7,385.6 973.9,386.8 976.0,388.1 978.2,389.4 980.3,390.7 982.5,392.0 984.6,393.3 986.8,394.6 988.9,395.8 991.0,397.1 993.2,398.4 995.3,399.7 997.5,401.1 999.6,402.4 1001.7,403.7 1003.9,405.0 1006.0,406.3 1008.1,407.6 1010.2,409.0 1012.4,410.3 1014.5,411.6 1016.6,413.0 1018.7,414.3 1020.8,415.7 1022.9,417.0 1025.0,418.4 1027.1,419.7 1029.2,421.1 1031.3,422.5 1033.4,423.8 1035.5,425.2 1037.6,426.6 1039.7,427.9 1041.8,429.3 1043.9,430.7 1046.0,432.1 1048.1,433.5 1050.2,434.9 1052.2,436.3 1054.3,437.6 1056.4,439.0 1058.5,440.4 1060.6,441.8 1062.6,443.2 1064.7,444.6 1066.8,446.0 1068.9,447.5 1070.9,448.9 1073.0,450.3 1075.1,451.7 1077.2,453.1 1079.2,454.5 1081.3,455.9 1083.4,457.3 1085.4,458.7 1087.5,460.1 1089.6,461.5 1091.6,463.0 1093.7,464.4 1095.8,465.8 1097.9,467.2 1099.9,468.6 1102.0,470.0 1104.1,471.4 1106.1,472.8 1108.2,474.2 1110.3,475.7 1112.4,477.1 1114.4,478.5 1116.5,479.9 1118.6,481.3 1120.7,482.7 1122.7,484.1 1124.8,485.5 1126.9,486.9 1129.0,488.3 1131.1,489.7 1133.1,491.1 1135.2,492.4 1137.3,493.8 1139.4,495.2 1141.5,496.6 1143.6,498.0 1145.7,499.4 1147.8,500.7 1149.9,502.1 1152.0,503.5 1154.0,504.8 1156.2,506.2 1158.3,507.6 1160.4,508.9 1162.5,510.3 1164.6,511.6 1166.7,512.9 1168.8,514.3 1170.9,515.6 1173.0,516.9 1175.2,518.3 1177.3,519.6 1179.4,520.9 1181.6,522.2 1183.7,523.5 1185.8,524.8 1188.0,526.1 1190.1,527.3 1192.3,528.6 1194.4,529.9 1196.6,531.1 1198.8,532.4 1200.9,533.6 1203.1,534.8 1205.3,536.1 1207.5,537.3 1209.7,538.5 1211.8,539.7 1214.0,540.8 1216.2,542.0 1218.5,543.2 1220.7,544.3 1222.9,545.5 1225.1,546.6 1227.3,547.7 1229.6,548.8 1231.8,549.9 1234.1,551.0 1236.3,552.1 1238.6,553.2 1240.8,554.2 1243.1,555.2 1245.4,556.3 1247.7,557.3 1250.0,558.3 1252.2,559.3 1254.5,560.2 1256.9,561.2 1259.2,562.2 1261.5,563.1 1263.8,564.0 1266.1,565.0 1268.5,565.9 1270.8,566.8 1273.1,567.7 1275.5,568.6 1277.8,569.5 1280.1,570.4 1282.5,571.3 1284.8,572.2 1287.2,573.1 1289.5,574.0 1291.9,574.9 1294.2,575.8 1296.6,576.6 1299.0,577.5 1301.3,578.4 1303.7,579.3 1306.0,580.2 1308.4,581.1 1310.7,582.0 1313.1,582.9 1315.4,583.8 1317.8,584.7 1320.1,585.6 1322.5,586.5 1324.8,587.4 1327.1,588.4 1329.5,589.3 1331.8,590.2 1334.1,591.2 1336.5,592.2 1338.8,593.1 1341.1,594.1 1343.4,595.1 1345.7,596.1 1348.0,597.1 1350.3,598.1 1352.6,599.1 1354.9,600.1 1357.2,601.1 1359.5,602.2 1361.8,603.2 1364.0,604.3 1366.3,605.4 1368.5,606.5 1370.8,607.6 1373.0,608.7 1375.3,609.8 1377.5,610.9 1379.7,612.1 1381.9,613.2 1384.1,614.4 1386.3,615.6 1388.5,616.8 1390.7,618.0 1392.9,619.2 1395.0,620.4 1397.2,621.7 1399.3,622.9 1401.5,624.2 1403.6,625.5 1405.7,626.8 1407.8,628.1 1409.9,629.5 1412.0,630.8 1414.1,632.1 1416.2,633.5 1418.3,634.9 1420.3,636.3 1422.4,637.7 1424.4,639.1 1426.5,640.5 1428.5,641.9 1430.6,643.4 1432.6,644.8 1434.6,646.3 1436.6,647.7 1438.7,649.2 1440.7,650.7 1442.7,652.1 1444.7,653.6 1446.7,655.1 1448.7,656.6 1450.7,658.1 1452.7,659.6 1454.7,661.1 1456.7,662.6 1458.7,664.2 1460.7,665.7 1462.7,667.2 1464.7,668.7 1466.7,670.3 1468.7,671.8 1470.7,673.3 1472.7,674.9 1474.7,676.4 1476.7,678.0 1478.7,679.5 1480.7,681.0 1482.7,682.6 1484.8,684.1 1486.8,685.6 1488.8,687.2 1490.8,688.7 1492.8,690.2 1494.9,691.8 1496.9,693.3 1498.9,694.8 1501.0,696.3 1503.0,697.8 1505.1,699.3 1507.2,700.8 1509.2,702.3 1511.3,703.8 1513.4,705.2 1515.5,706.7 1517.6,708.1 1519.7,709.5 1521.8,710.9 1523.9,712.3 1526.0,713.7 1528.1,715.0 1530.3,716.3 1532.4,717.6 1534.6,718.9 1536.7,720.2 1538.9,721.4 1541.1,722.6 1543.3,723.8 1545.5,724.9 1547.7,726.0 1549.9,727.1 1552.1,728.1 1554.3,729.2 1556.6,730.1 1558.9,731.1 1561.1,732.0 1563.4,732.8 1565.7,733.7 1568.0,734.4 1570.3,735.2 1572.6,735.9 1575.0,736.5 1577.3,737.1 1579.7,737.7 1582.1,738.2 1584.5,738.7 1586.9,739.1 1589.3,739.5 1591.7,739.9 1594.1,740.2 1596.6,740.5 1599.0,740.7 1601.5,740.9 1603.9,741.1 1606.4,741.3 1608.9,741.4 1611.4,741.5 1613.9,741.6 1616.4,741.6 1618.9,741.6 1621.4,741.6 1623.9,741.6 1626.4,741.6 1628.9,741.5 1631.4,741.5 1634.0,741.4 1636.5,741.3 1639.0,741.2 1641.6,741.0 1644.1,740.9 1646.6,740.8 1649.2,740.6 1651.7,740.5 1654.3,740.4 1656.8,740.2 1659.3,740.1 1661.9,740.0 1664.4,739.8 1666.9,739.7 1669.5,739.6 1672.0,739.6 1674.6,739.5 1677.1,739.4 1679.6,739.4 1682.1,739.4 1684.7,739.4 1687.2,739.5 1689.7,739.6 1692.2,739.7 1694.7,739.8 1697.2,740.0 1699.7,740.2 1702.2,740.4 1704.7,740.7 1707.2,741.0 1709.7,741.4 1712.2,741.8 1714.6,742.2 1717.1,742.6 1719.6,743.1 1722.0,743.7 1724.4,744.2 1726.9,744.8 1729.3,745.4 1731.7,746.1 1734.1,746.8 1736.5,747.5 1738.8,748.3 1741.2,749.1 1743.5,749.9 1745.9,750.7 1748.2,751.6 1750.5,752.5 1752.8,753.5 1755.1,754.5 1757.4,755.5 1759.6,756.5 1761.9,757.6 1764.1,758.7 1766.3,759.9 1768.5,761.0 1770.7,762.2 1772.8,763.5 1775.0,764.7 1777.1,766.0 1779.2,767.3 1781.3,768.7 1783.3,770.1 1785.4,771.5 1787.4,772.9 1789.4,774.4 1791.4,775.9 1793.3,777.4 1795.3,778.9 1797.2,780.5 1799.1,782.1 1801.0,783.7 1802.8,785.4 1804.7,787.0 1806.5,788.7 1808.3,790.5 1810.1,792.2 1811.9,794.0 1813.6,795.8 1815.3,797.6 1817.0,799.4 1818.7,801.2 1820.4,803.1 1822.1,805.0 1823.7,806.9 1825.3,808.9 1826.9,810.8 1828.5,812.8 1830.0,814.8 1831.5,816.8 1833.1,818.8 1834.6,820.8 1836.0,822.9 1837.5,825.0 1838.9,827.1 1840.3,829.2 1841.7,831.3 1843.1,833.4 1844.5,835.5 1845.8,837.7 1847.1,839.9 1848.4,842.1 1849.7,844.3 1851.0,846.5 1852.2,848.7 1853.5,850.9 1854.7,853.1 1855.9,855.4 1857.0,857.7 1858.2,859.9 1859.3,862.2 1860.4,864.5 1861.5,866.8 1862.6,869.1 1863.7,871.4 1864.7,873.7 1865.7,876.0 1866.7,878.3 1867.7,880.7 1868.7,883.0 1869.6,885.3 1870.5,887.7 1871.4,890.0 1872.3,892.4 1873.2,894.7 1874.0,897.1 1874.9,899.4 1875.7,901.8 1876.5,904.1 1877.3,906.5 1878.0,908.9 1878.7,911.2 1879.5,913.6 1880.2,915.9 1880.9,918.3 1881.5,920.6 1882.2,923.0 1882.8,925.3 1883.4,927.7 1884.0,930.0" stroke="#ff0000" stroke-width="7" fill="none" stroke-linejoin="round" stroke-dasharray="31.5 6.5 17 6.5"/>
</g>
<defs><clipPath id="clip"><rect x="222.6" y="38.3" width="1665.2" height="1305.7"/></clipPath></defs>
<text x="285.6" y="1425.0" font-size="70.5" textLength="30.5" lengthAdjust="spacingAndGlyphs" >3</text>
<text x="548.2" y="1425.0" font-size="70.5" textLength="32.5" lengthAdjust="spacingAndGlyphs" >4</text>
<text x="811.9" y="1425.0" font-size="70.5" textLength="32.3" lengthAdjust="spacingAndGlyphs" >5</text>
<text x="1075.0" y="1425.0" font-size="70.5" textLength="34.9" lengthAdjust="spacingAndGlyphs" >6</text>
<text x="1338.6" y="1425.0" font-size="70.5" textLength="34.1" lengthAdjust="spacingAndGlyphs" >7</text>
<text x="1605.3" y="1425.0" font-size="70.5" textLength="30.7" lengthAdjust="spacingAndGlyphs" >8</text>
<text x="1866.7" y="1425.0" font-size="70.5" textLength="34.4" lengthAdjust="spacingAndGlyphs" >9</text>
<text y="70.8" font-size="69.5"><tspan x="167.2" textLength="34.4" lengthAdjust="spacingAndGlyphs">0</tspan></text>
<text y="285.4" font-size="69.5"><tspan x="110.0" textLength="23.3" lengthAdjust="spacingAndGlyphs">-</tspan><tspan x="135.6" textLength="26.3" lengthAdjust="spacingAndGlyphs">1</tspan><tspan x="165.9" textLength="33.7" lengthAdjust="spacingAndGlyphs">0</tspan></text>
<text y="501.6" font-size="69.5"><tspan x="110.0" textLength="23.3" lengthAdjust="spacingAndGlyphs">-</tspan><tspan x="131.1" textLength="35.3" lengthAdjust="spacingAndGlyphs">2</tspan><tspan x="165.9" textLength="33.7" lengthAdjust="spacingAndGlyphs">0</tspan></text>
<text y="717.6" font-size="69.5"><tspan x="110.0" textLength="23.3" lengthAdjust="spacingAndGlyphs">-</tspan><tspan x="133.0" textLength="29.7" lengthAdjust="spacingAndGlyphs">3</tspan><tspan x="165.9" textLength="33.7" lengthAdjust="spacingAndGlyphs">0</tspan></text>
<text y="932.4" font-size="69.5"><tspan x="110.0" textLength="23.3" lengthAdjust="spacingAndGlyphs">-</tspan><tspan x="132.7" textLength="31.1" lengthAdjust="spacingAndGlyphs">4</tspan><tspan x="165.9" textLength="33.7" lengthAdjust="spacingAndGlyphs">0</tspan></text>
<text y="1148.2" font-size="69.5"><tspan x="110.0" textLength="23.3" lengthAdjust="spacingAndGlyphs">-</tspan><tspan x="132.5" textLength="30.8" lengthAdjust="spacingAndGlyphs">5</tspan><tspan x="165.9" textLength="33.7" lengthAdjust="spacingAndGlyphs">0</tspan></text>
<text y="1365.0" font-size="69.5"><tspan x="110.0" textLength="23.3" lengthAdjust="spacingAndGlyphs">-</tspan><tspan x="133.4" textLength="31.2" lengthAdjust="spacingAndGlyphs">6</tspan><tspan x="165.9" textLength="33.7" lengthAdjust="spacingAndGlyphs">0</tspan></text>
<text y="1516.0" font-size="92.5"><tspan x="792.9" textLength="376.1" lengthAdjust="spacingAndGlyphs">Frequency</tspan> <tspan x="1192.3" textLength="225.2" lengthAdjust="spacingAndGlyphs">[GHz]</tspan></text>
<text transform="translate(72.3,0) rotate(-90)" y="0" font-size="92.5"><tspan x="-964.4" textLength="436.2" lengthAdjust="spacingAndGlyphs">S-parameter</tspan> <tspan x="-506.1" textLength="160.8" lengthAdjust="spacingAndGlyphs">[dB]</tspan></text>
<rect x="1244" y="87.5" width="623.5" height="309" fill="#fff" stroke="#000" stroke-width="2.2"/>
<path d="M1259,131.5H1412.5" stroke="#1844ff" stroke-width="7"/>
<text y="152.0" font-size="63.0"><tspan x="1421.9" textLength="87.8" lengthAdjust="spacingAndGlyphs">S11</tspan> <tspan x="1527.9" textLength="330.6" lengthAdjust="spacingAndGlyphs">seventh-order</tspan></text>
<path d="M1259,205.4H1412.5" stroke="#1844ff" stroke-width="7" stroke-dasharray="31.5 6.5 17 6.5"/>
<text y="226.2" font-size="63.0"><tspan x="1422.0" textLength="89.0" lengthAdjust="spacingAndGlyphs">S21</tspan> <tspan x="1529.5" textLength="330.2" lengthAdjust="spacingAndGlyphs">seventh-order</tspan></text>
<path d="M1259,279.3H1412.5" stroke="#ff0000" stroke-width="7"/>
<text y="300.0" font-size="63.0"><tspan x="1422.1" textLength="87.0" lengthAdjust="spacingAndGlyphs">S11</tspan> <tspan x="1526.7" textLength="248.8" lengthAdjust="spacingAndGlyphs">fifth-order</tspan></text>
<path d="M1259,353.2H1412.5" stroke="#ff0000" stroke-width="7" stroke-dasharray="31.5 6.5 17 6.5"/>
<text y="374.3" font-size="63.0"><tspan x="1422.0" textLength="89.5" lengthAdjust="spacingAndGlyphs">S21</tspan> <tspan x="1529.6" textLength="248.3" lengthAdjust="spacingAndGlyphs">fifth-order</tspan></text>
</svg>
</body></html>
